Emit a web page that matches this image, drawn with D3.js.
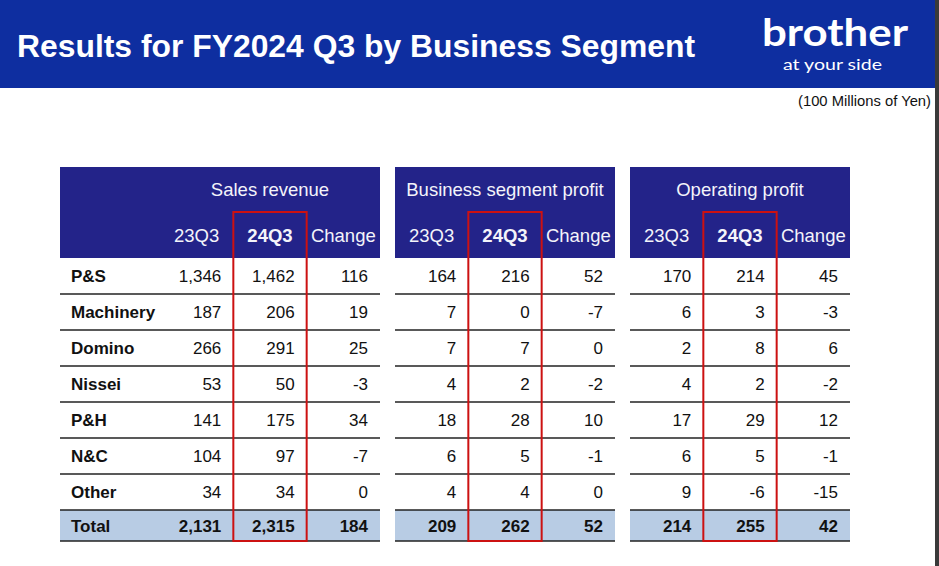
<!DOCTYPE html>
<html>
<head>
<meta charset="utf-8">
<script src="https://cdn.jsdelivr.net/npm/d3@7"></script>
<style>
  body { margin: 0; background: #fff; }
  svg { display: block; font-family: "Liberation Sans", Arial, sans-serif; }
</style>
</head>
<body>
<svg id="chart" width="939" height="566"></svg>
<script>
/* data */
const segments = ["P&S", "Machinery", "Domino", "Nissei", "P&H", "N&C", "Other"]
const periods = ["23Q3", "24Q3", "Change"]

const sales23 = [1346, 187, 266, 53, 141, 104, 34]
const sales24 = [1462, 206, 291, 50, 175, 97, 34]
const salesChange = [116, 19, 25, -3, 34, -7, 0]
const salesTotal = [2131, 2315, 184]

const bsp23 = [164, 7, 7, 4, 18, 6, 4]
const bsp24 = [216, 0, 7, 2, 28, 5, 4]
const bspChange = [52, -7, 0, -2, 10, -1, 0]
const bspTotal = [209, 262, 52]

const op23 = [170, 6, 2, 4, 17, 6, 9]
const op24 = [214, 3, 8, 2, 29, 5, -6]
const opChange = [45, -3, 6, -2, 12, -1, -15]
const opTotal = [214, 255, 42]

const groups = [
  {title: "Sales revenue", cols: [sales23, sales24, salesChange], total: salesTotal},
  {title: "Business segment profit", cols: [bsp23, bsp24, bspChange], total: bspTotal},
  {title: "Operating profit", cols: [op23, op24, opChange], total: opTotal}
]

/* layout */
const svg = d3.select("#chart")
const fmt = d3.formatLocale({decimal: ".", thousands: ",", grouping: [3], currency: ["", ""], minus: "-"}).format(",")

// page title band
svg.append("rect").attr("x", 0).attr("y", 0).attr("width", 939).attr("height", 88).attr("fill", "#0e2ea0")
svg.append("text")
  .attr("x", 17).attr("y", 57)
  .attr("fill", "#fff")
  .attr("font-size", 31).attr("font-weight", "bold")
  .attr("textLength", 678).attr("lengthAdjust", "spacingAndGlyphs")
  .text("Results for FY2024 Q3 by Business Segment")

// logo
svg.append("text")
  .attr("x", 762).attr("y", 46)
  .attr("fill", "#fff")
  .attr("font-family", "Lato, 'Open Sans', sans-serif")
  .attr("font-size", 38).attr("font-weight", "bold")
  .attr("textLength", 146).attr("lengthAdjust", "spacingAndGlyphs")
  .text("brother")
svg.append("text")
  .attr("x", 783).attr("y", 70)
  .attr("fill", "#fff")
  .attr("font-family", "Lato, 'Open Sans', sans-serif")
  .attr("font-size", 15.5)
  .attr("textLength", 99).attr("lengthAdjust", "spacingAndGlyphs")
  .text("at your side")

svg.append("text")
  .attr("x", 931).attr("y", 106)
  .attr("text-anchor", "end")
  .attr("font-size", 14.5).attr("fill", "#111")
  .attr("textLength", 133).attr("lengthAdjust", "spacingAndGlyphs")
  .text("(100 Millions of Yen)")

// right page edge
svg.append("rect").attr("x", 935).attr("y", 0).attr("width", 4).attr("height", 566).attr("fill", "#3a3a3a")

// table geometry
const headTop = 167, headBottom = 258, bodyBottom = 510, totalBottom = 541
const groupX = [[160, 380], [395, 615], [630, 850]]
const groupLeft = [60, 395, 630]

const y = d3.scaleBand().domain(segments).range([headBottom, bodyBottom])

groups.forEach((g, gi) => {
  const [x0, x1] = groupX[gi]
  const left = groupLeft[gi]
  const x = d3.scaleBand().domain(periods).range([x0, x1])
  const grp = svg.append("g")

  // header
  grp.append("rect")
    .attr("x", left).attr("y", headTop)
    .attr("width", x1 - left).attr("height", headBottom - headTop)
    .attr("fill", "#232389")
  grp.append("text")
    .attr("x", (x0 + x1) / 2).attr("y", 196)
    .attr("text-anchor", "middle")
    .attr("fill", "#f4f4fa").attr("font-size", 18.5)
    .text(g.title)
  grp.selectAll("text.period")
    .data(periods)
    .enter().append("text")
    .attr("class", "period")
    .attr("x", d => x(d) + x.bandwidth() / 2)
    .attr("y", 242)
    .attr("text-anchor", "middle")
    .attr("fill", "#f4f4fa").attr("font-size", 18.5)
    .attr("font-weight", d => d === "24Q3" ? "bold" : "normal")
    .text(d => d)

  // total row background
  grp.append("rect")
    .attr("x", left).attr("y", bodyBottom)
    .attr("width", x1 - left).attr("height", totalBottom - bodyBottom)
    .attr("fill", "#b8cce4")

  // row lines
  grp.selectAll("line.row")
    .data(segments)
    .enter().append("line")
    .attr("class", "row")
    .attr("x1", left).attr("x2", x1)
    .attr("y1", d => y(d) + y.bandwidth())
    .attr("y2", d => y(d) + y.bandwidth())
    .attr("stroke", "#222").attr("stroke-width", 1.3)
  grp.append("line")
    .attr("x1", left).attr("x2", x1)
    .attr("y1", totalBottom).attr("y2", totalBottom)
    .attr("stroke", "#222").attr("stroke-width", 1.5)

  // values
  g.cols.forEach((col, ci) => {
    const p = periods[ci]
    grp.selectAll("text.v" + ci)
      .data(col)
      .enter().append("text")
      .attr("class", "v" + ci)
      .attr("x", x(p) + x.bandwidth() - 12)
      .attr("y", (d, i) => y(segments[i]) + y.bandwidth() / 2 + 6)
      .attr("text-anchor", "end")
      .attr("font-size", 17).attr("fill", "#111")
      .text(d => fmt(d))
  })
  grp.selectAll("text.tot")
    .data(g.total)
    .enter().append("text")
    .attr("class", "tot")
    .attr("x", (d, i) => x(periods[i]) + x.bandwidth() - 12)
    .attr("y", (bodyBottom + totalBottom) / 2 + 6)
    .attr("text-anchor", "end")
    .attr("font-size", 17).attr("font-weight", "bold").attr("fill", "#111")
    .text(d => fmt(d))

  // highlight box on 24Q3
  grp.append("rect")
    .attr("x", x("24Q3")).attr("y", 212)
    .attr("width", x.bandwidth()).attr("height", totalBottom - 212)
    .attr("fill", "none")
    .attr("stroke", "#cc1111").attr("stroke-width", 2)
})

// row labels
svg.selectAll("text.label")
  .data(segments)
  .enter().append("text")
  .attr("class", "label")
  .attr("x", 71)
  .attr("y", d => y(d) + y.bandwidth() / 2 + 6)
  .attr("font-size", 17).attr("font-weight", "bold").attr("fill", "#111")
  .text(d => d)
svg.append("text")
  .attr("x", 71).attr("y", (bodyBottom + totalBottom) / 2 + 6)
  .attr("font-size", 17).attr("font-weight", "bold").attr("fill", "#111")
  .text("Total")
</script>
</body>
</html>
